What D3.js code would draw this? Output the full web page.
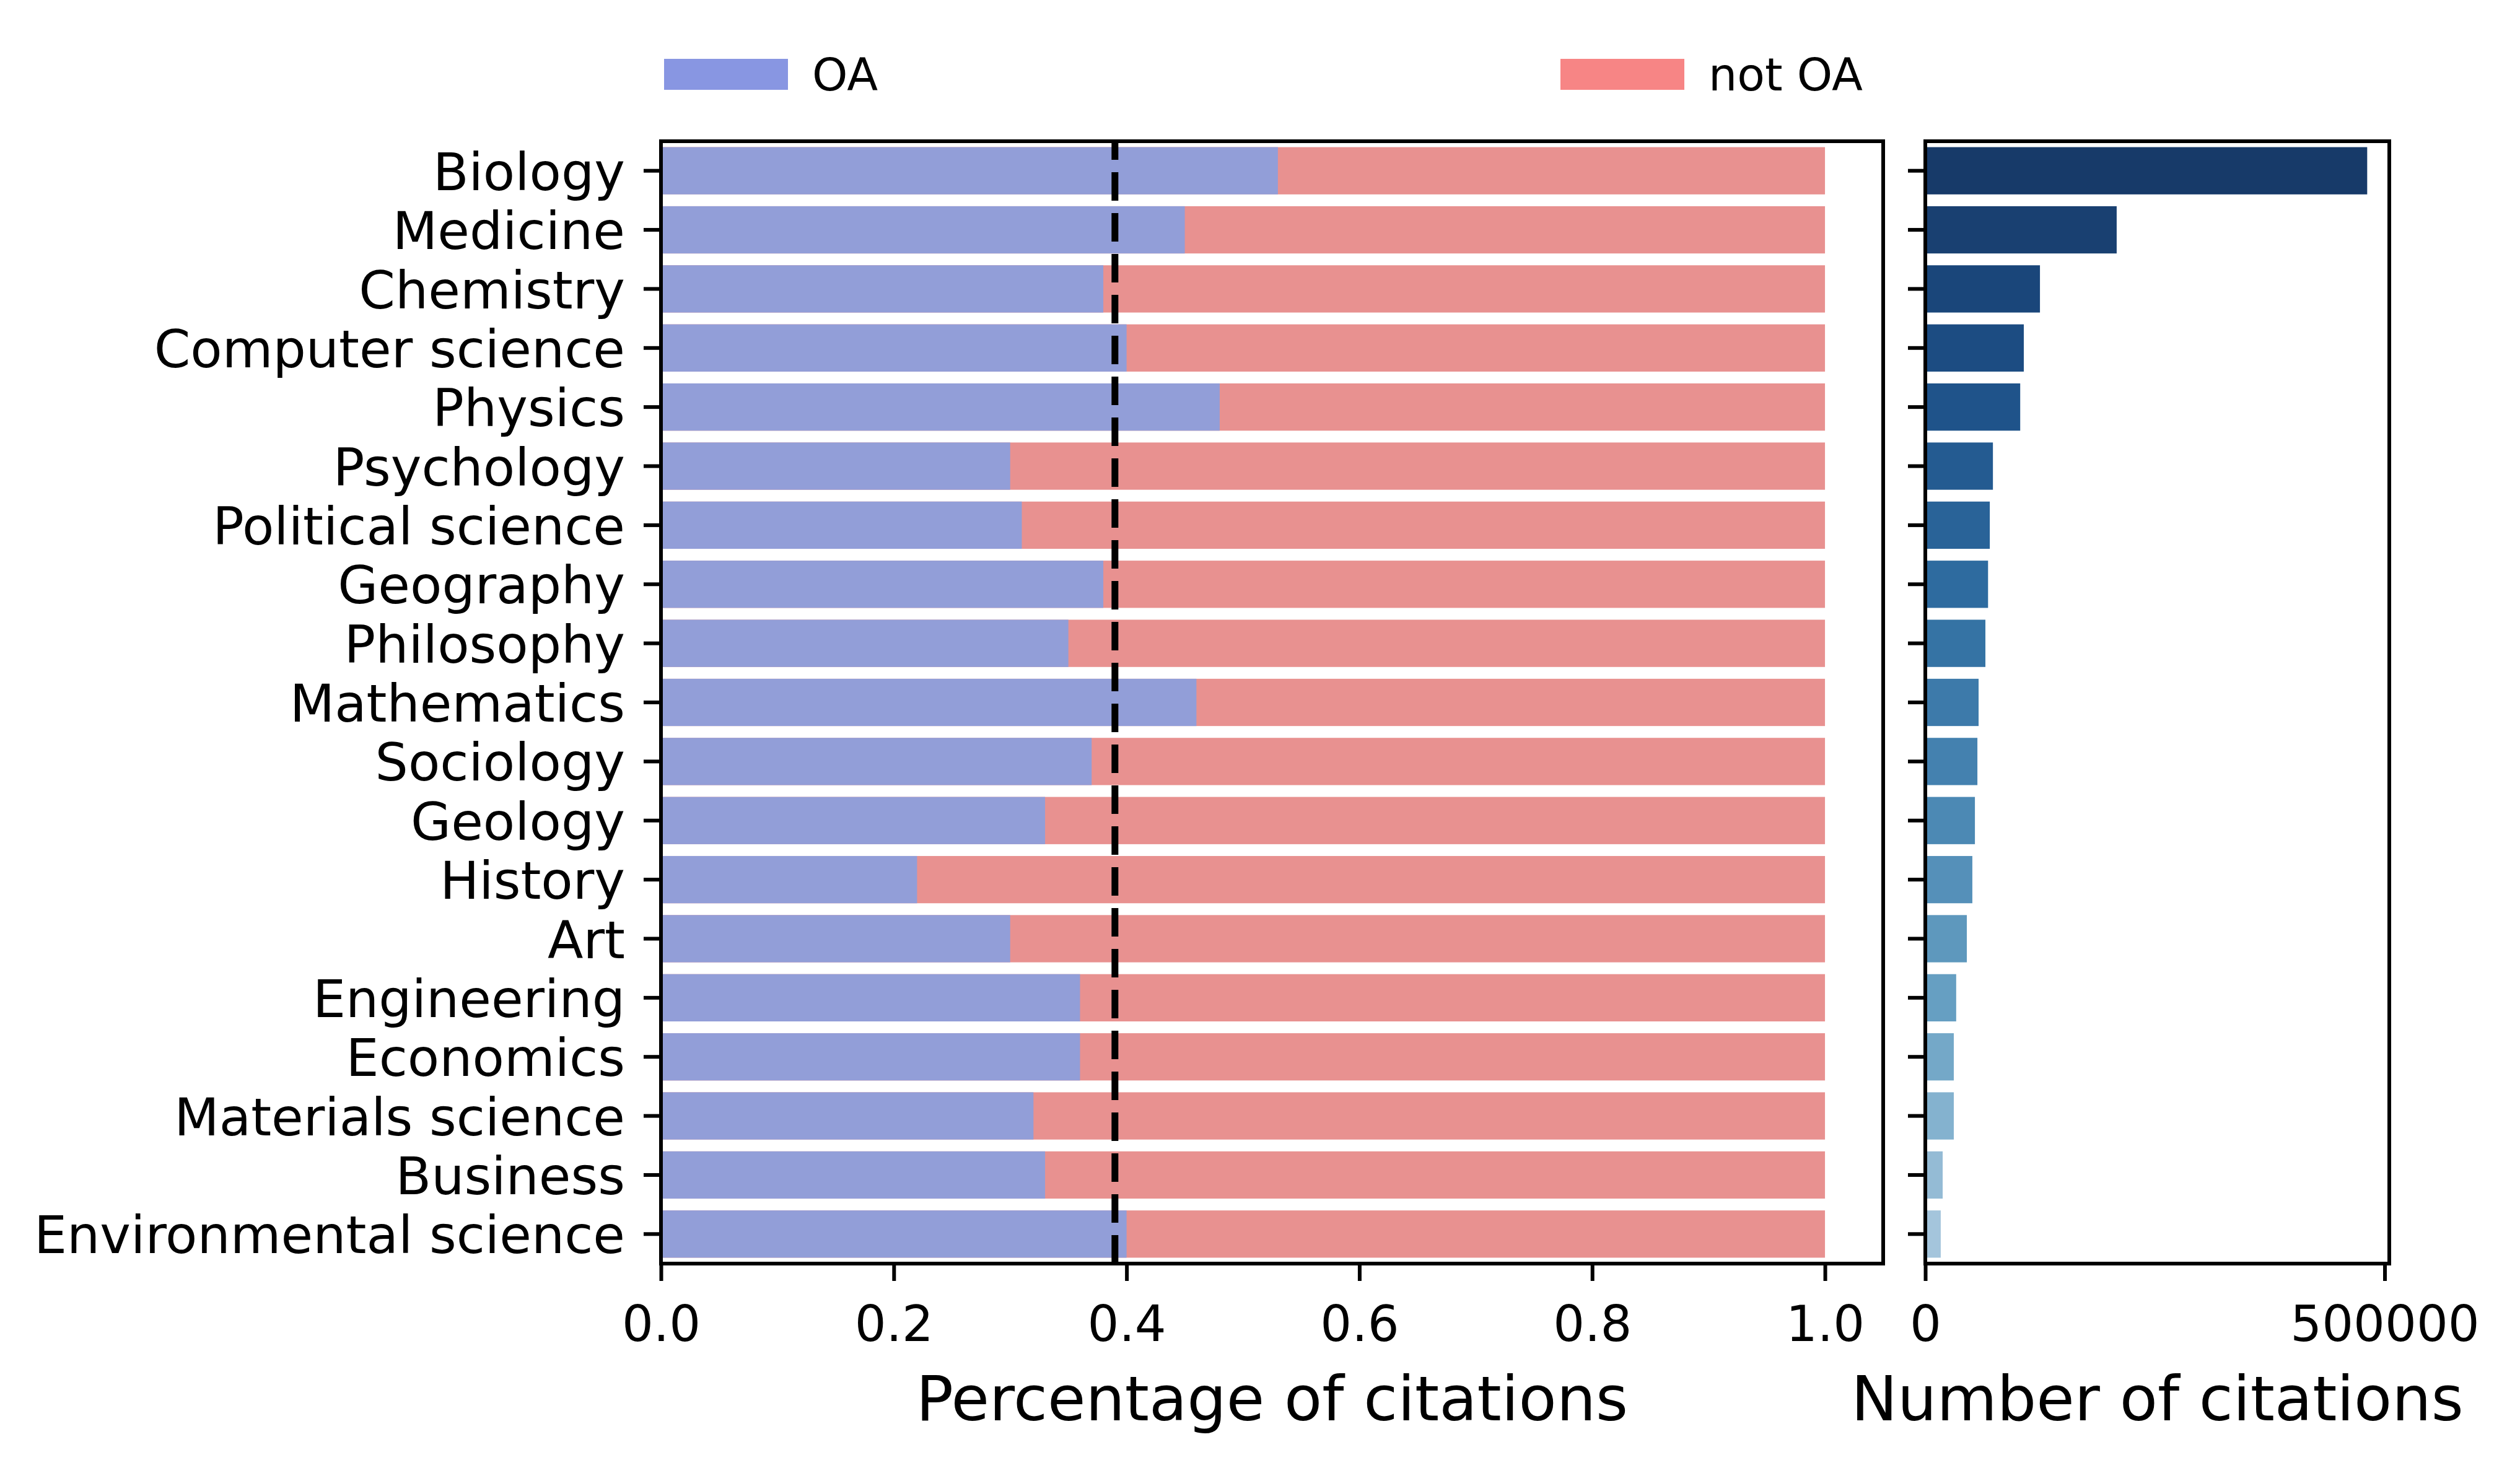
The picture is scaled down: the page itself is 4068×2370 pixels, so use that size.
<!DOCTYPE html>
<html>
<head>
<meta charset="utf-8">
<script src="https://cdn.jsdelivr.net/npm/d3@7/dist/d3.min.js"></script>
<style>
    body { margin: 0; background: #ffffff; }
    svg { display: block; font-family: "DejaVu Sans", sans-serif; }
</style>
</head>
<body>
<script>
var categories = ['Biology', 'Medicine', 'Chemistry', 'Computer science', 'Physics',
    'Psychology', 'Political science', 'Geography', 'Philosophy', 'Mathematics',
    'Sociology', 'Geology', 'History', 'Art', 'Engineering', 'Economics',
    'Materials science', 'Business', 'Environmental science'];

var oaShare = [0.53, 0.45, 0.38, 0.40, 0.48, 0.30, 0.31, 0.38, 0.35, 0.46,
    0.37, 0.33, 0.22, 0.30, 0.36, 0.36, 0.32, 0.33, 0.40];

var citations = [481000, 208300, 124800, 107200, 103300, 73600, 70200, 68300,
    65400, 58000, 56700, 54000, 51200, 45200, 33600, 31000, 31000, 18900, 16800];

var meanOaShare = 0.39;
var shareTicks = [0, 0.2, 0.4, 0.6, 0.8, 1.0];
var countTicks = [0, 500000];
var legendLabels = ['OA', 'not OA'];

var width = 4068, height = 2370;
var left = {x0: 1067, x1: 3040};
var right = {x0: 3108, x1: 3857};
var top_y = 228, bottom_y = 2040;

var svg = d3.select('body').append('svg')
    .attr('width', width)
    .attr('height', height);

svg.append('rect').attr('width', width).attr('height', height).attr('fill', '#ffffff');

var y = d3.scaleBand()
    .domain(categories)
    .range([top_y, bottom_y])
    .paddingInner(0.2)
    .paddingOuter(0.1);

var xShare = d3.scaleLinear().domain([0, 1.05]).range([left.x0, left.x1]);
var xCount = d3.scaleLinear()
    .domain([0, d3.max(citations) * 1.05])
    .range([right.x0, right.x1]);

var blues = d3.piecewise(d3.interpolateRgb,
    ['#173a69', '#1d5087', '#2f6da0', '#4a87b3', '#6aa2c4', '#a4c5dc']);

// left panel: stacked share bars
var gl = svg.append('g');
gl.selectAll('rect.notoa').data(categories)
    .enter()
        .append('rect')
        .attr('class', 'notoa')
        .attr('x', xShare(0))
        .attr('y', function(d){return y(d)})
        .attr('width', xShare(1) - xShare(0))
        .attr('height', y.bandwidth())
        .attr('fill', '#e89190');

gl.selectAll('rect.oa').data(categories)
    .enter()
        .append('rect')
        .attr('class', 'oa')
        .attr('x', xShare(0))
        .attr('y', function(d){return y(d)})
        .attr('width', function(d, i){return xShare(oaShare[i]) - xShare(0)})
        .attr('height', y.bandwidth())
        .attr('fill', '#929ed8');

// mean line, dash pattern starts at the bottom like matplotlib
gl.append('line')
    .attr('x1', xShare(meanOaShare))
    .attr('x2', xShare(meanOaShare))
    .attr('y1', bottom_y)
    .attr('y2', top_y)
    .attr('stroke', 'black')
    .attr('stroke-width', 11)
    .attr('stroke-dasharray', '46,20');

// right panel: citation counts
var gr = svg.append('g');
gr.selectAll('rect').data(categories)
    .enter()
        .append('rect')
        .attr('x', xCount(0))
        .attr('y', function(d){return y(d)})
        .attr('width', function(d, i){return xCount(citations[i]) - xCount(0)})
        .attr('height', y.bandwidth())
        .attr('fill', function(d, i){return blues(i / (categories.length - 1))});

function styleAxis(g, size){
    g.attr('font-family', '"DejaVu Sans", sans-serif').attr('font-size', size);
    g.select('.domain').remove();
    g.selectAll('.tick line').attr('stroke', 'black').attr('stroke-width', 6);
    g.selectAll('.tick text').attr('fill', 'black');
}

svg.append('g')
    .attr('transform', 'translate(0,' + bottom_y + ')')
    .call(d3.axisBottom(xShare).tickValues(shareTicks).tickFormat(d3.format('.1f'))
        .tickSize(28).tickPadding(40))
    .call(styleAxis, 80);

svg.append('g')
    .attr('transform', 'translate(' + left.x0 + ',0)')
    .call(d3.axisLeft(y).tickSize(28).tickPadding(30))
    .call(styleAxis, 84)
    .selectAll('.tick text').attr('dy', '0.37em');

svg.append('g')
    .attr('transform', 'translate(0,' + bottom_y + ')')
    .call(d3.axisBottom(xCount).tickValues(countTicks).tickFormat(d3.format('d'))
        .tickSize(28).tickPadding(40))
    .call(styleAxis, 80);

svg.append('g')
    .attr('transform', 'translate(' + right.x0 + ',0)')
    .call(d3.axisLeft(y).tickSize(28).tickFormat(''))
    .call(styleAxis, 84);

// frames
[left, right].forEach(function(p){
    svg.append('rect')
        .attr('x', p.x0)
        .attr('y', top_y)
        .attr('width', p.x1 - p.x0)
        .attr('height', bottom_y - top_y)
        .attr('fill', 'none')
        .attr('stroke', 'black')
        .attr('stroke-width', 6);
});

// axis titles
svg.append('text')
    .attr('x', (left.x0 + left.x1) / 2)
    .attr('y', 2293)
    .attr('text-anchor', 'middle')
    .attr('font-size', 100)
    .text('Percentage of citations');

svg.append('text')
    .attr('x', (right.x0 + right.x1) / 2)
    .attr('y', 2293)
    .attr('text-anchor', 'middle')
    .attr('font-size', 100)
    .text('Number of citations');

// legend
var legendColors = ['#8896e2', '#f78585'];
var legendX = [1072, 2519];
var legend = svg.append('g').selectAll('g').data(legendLabels)
    .enter()
        .append('g')
        .attr('transform', function(d, i){return 'translate(' + legendX[i] + ',0)'});

legend.append('rect')
    .attr('y', 95)
    .attr('width', 200)
    .attr('height', 50)
    .attr('fill', function(d, i){return legendColors[i]});

legend.append('text')
    .attr('x', 239)
    .attr('y', 146)
    .attr('font-size', 73)
    .text(function(d){return d});
</script>
</body>
</html>
